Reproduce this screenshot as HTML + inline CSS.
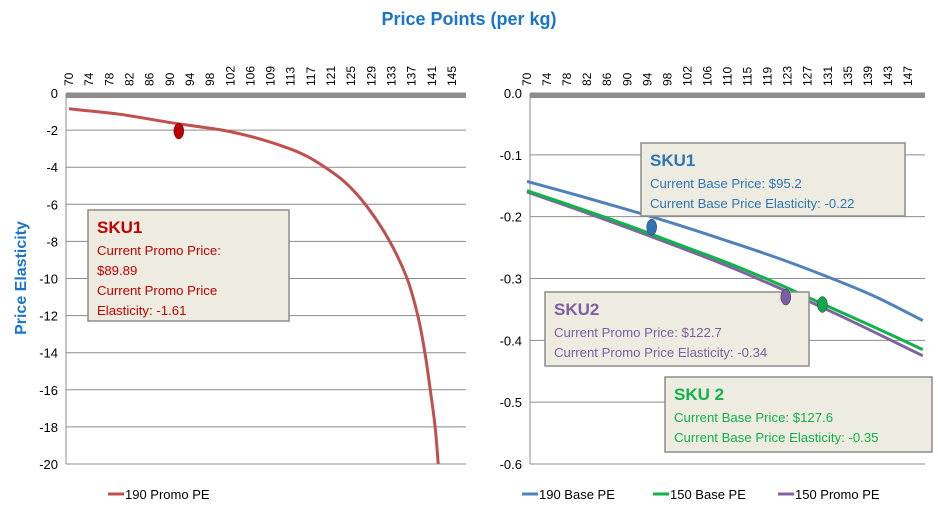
<!DOCTYPE html>
<html><head><meta charset="utf-8"><style>
body{margin:0;background:#fff;width:938px;height:517px;overflow:hidden;font-family:"Liberation Sans",sans-serif}
svg text{font-family:"Liberation Sans",sans-serif}
</style></head><body>
<svg id="c" width="938" height="517" xmlns="http://www.w3.org/2000/svg">
<text x="469" y="25" text-anchor="middle" font-size="18" font-weight="bold" fill="#1a75c8">Price Points (per kg)</text>
<text transform="translate(26,278) rotate(-90)" text-anchor="middle" font-size="16" font-weight="bold" fill="#1a75c8">Price Elasticity</text>
</svg>
<script>
const leftTicks=["70","74","78","82","86","90","94","98","102","106","109","113","117","121","125","129","133","137","141","145"];
const rightTicks=["70","74","78","82","86","90","94","98","102","106","110","115","119","123","127","131","135","139","143","147"];
const leftPrices=[70,80,90,95,100,105,110,115,119,124,128.3,132.8,136.2,138.3,139.7,140.7,141.7,142.3];
const promo190=[-0.85,-1.15,-1.6,-1.8,-2.0,-2.3,-2.7,-3.2,-3.8,-4.8,-6.1,-8.0,-10,-12,-14,-15.9,-18,-20];
const rightPrices=[70,80,90,100,110,120,130,140,150];
const base190=[-0.143,-0.165,-0.188,-0.212,-0.238,-0.265,-0.295,-0.328,-0.368];
const base150=[-0.158,-0.185,-0.213,-0.243,-0.273,-0.306,-0.342,-0.378,-0.415];
const promo150=[-0.16,-0.188,-0.217,-0.247,-0.278,-0.312,-0.348,-0.386,-0.425];
const leftYTicks=[0,-2,-4,-6,-8,-10,-12,-14,-16,-18,-20];
const rightYTicks=[0,-0.1,-0.2,-0.3,-0.4,-0.5,-0.6];
const leftMarker=[91.5,-2.05];
const rightMarkers=[[95.2,-0.217,"#2e75b6"],[122.3,-0.33,"#7e5ea3"],[129.7,-0.342,"#10a84a"]];

const svg=document.getElementById('c');
const NS="http://www.w3.org/2000/svg";
function mk(tag,attrs,parent){const e=document.createElementNS(NS,tag);for(const k in attrs)e.setAttribute(k,attrs[k]);(parent||svg).appendChild(e);return e;}
const yTop=93,yBot=464;
const lx=p=>69+(p-70)*(452-69)/75;
const ly=v=>yTop+(v/-20)*(yBot-yTop);
const rx=p=>527+(p-70)*(908-527)/77;
const ry=v=>yTop+(v/-0.6)*(yBot-yTop);

function panel(x0,x1,yTicks,yfn,fmt,ticks,tickX,name){
  yTicks.forEach(v=>{
    const y=yfn(v);
    const g=mk('line',{x1:x0,x2:x1,y1:y,y2:y,stroke:'#8c8c8c','stroke-width':1});
    
    
    const t=mk('text',{x:x0-8,y:y+5,'text-anchor':'end','font-size':13,fill:'#000'});
    t.textContent=fmt(v);
    
    
  });
  const ax=mk('line',{x1:x0,x2:x0,y1:yTop,y2:yBot,stroke:'#8c8c8c','stroke-width':1});
  
  
  const bar=mk('rect',{x:x0,y:yTop,width:x1-x0,height:5,fill:'#8c8c8c'});
  
  
  ticks.forEach((lab,i)=>{
    const x=tickX(i);
    const t=mk('text',{transform:`translate(${x+4},86) rotate(-90)`,'font-size':12,fill:'#000'});
    t.textContent=lab;
    
    
  });
}
panel(66,466,leftYTicks,ly,v=>String(v),leftTicks,i=>69+i*(452-69)/19,'left');
panel(530,925,rightYTicks,ry,v=>v.toFixed(1),rightTicks,i=>527+i*(908-527)/19,'right');

function series(px,vals,xf,yf,color,name){
  const pts=px.map((p,i)=>[xf(p),yf(vals[i])]);
  let d='M'+pts[0][0].toFixed(1)+','+pts[0][1].toFixed(1);
  for(let i=0;i<pts.length-1;i++){
    const p0=pts[Math.max(0,i-1)],p1=pts[i],p2=pts[i+1],p3=pts[Math.min(pts.length-1,i+2)];
    const c1=[p1[0]+(p2[0]-p0[0])/6,p1[1]+(p2[1]-p0[1])/6];
    const c2=[p2[0]-(p3[0]-p1[0])/6,p2[1]-(p3[1]-p1[1])/6];
    d+=` C${c1[0].toFixed(1)},${c1[1].toFixed(1)} ${c2[0].toFixed(1)},${c2[1].toFixed(1)} ${p2[0].toFixed(1)},${p2[1].toFixed(1)}`;
  }
  const e=mk('path',{d:d,fill:'none',stroke:color,'stroke-width':3,'stroke-linejoin':'round'});
  
  
}
series(leftPrices,promo190,lx,ly,'#c0504d','line-190-promo-pe');
series(rightPrices,base190,rx,ry,'#4f81bd','line-190-base-pe');
series(rightPrices,promo150,rx,ry,'#8064a2','line-150-promo-pe');
series(rightPrices,base150,rx,ry,'#0fb34a','line-150-base-pe');

function marker(x,y,c,name){
  const e=mk('ellipse',{cx:x,cy:y,rx:5,ry:8,fill:c,stroke:'#333','stroke-width':0.5});
  
  
}
marker(lx(leftMarker[0]),ly(leftMarker[1]),'#c00000','sku1-promo-marker');
marker(rx(rightMarkers[0][0]),ry(rightMarkers[0][1]),rightMarkers[0][2],'sku1-base-marker');

function box(x,y,w,h,color,lines,name){
  const g=mk('g',{});
  
  
  mk('rect',{x:x,y:y,width:w,height:h,fill:'#eeebe0',stroke:'#8c8c8c','stroke-width':1.5},g);
  lines.forEach((l,i)=>{
    const t=mk('text',{x:x+9,y:y+(i===0?23:25+i*20),'font-size':i===0?17:13.2,'font-weight':i===0?'bold':'normal',fill:color},g);
    t.textContent=l;
  });
}
box(88,210,201,111,'#c00000',['SKU1','Current Promo Price:','$89.89','Current Promo Price','Elasticity: -1.61'],'sku1-promo-callout');
box(641,143,264,73,'#2e75b6',['SKU1','Current Base Price: $95.2','Current Base Price Elasticity: -0.22'],'sku1-base-callout');
box(545,292,264,74,'#7e5ea3',['SKU2','Current Promo Price: $122.7','Current Promo Price Elasticity: -0.34'],'sku2-promo-callout');
box(665,377,267,75,'#0fb34a',['SKU 2','Current Base Price: $127.6','Current Base Price Elasticity: -0.35'],'sku2-base-callout');
marker(rx(rightMarkers[1][0]),ry(rightMarkers[1][1]),rightMarkers[1][2],'sku2-promo-marker');
marker(rx(rightMarkers[2][0]),ry(rightMarkers[2][1]),rightMarkers[2][2],'sku2-base-marker');

function legend(x,color,label,name){
  const g=mk('g',{});
  
  
  mk('line',{x1:x,x2:x+16,y1:494,y2:494,stroke:color,'stroke-width':3},g);
  const t=mk('text',{x:x+17,y:499,'font-size':13,fill:'#000'},g);
  t.textContent=label;
}
legend(108,'#c0504d','190 Promo PE','legend-190-promo-pe');
legend(522,'#4f81bd','190 Base PE','legend-190-base-pe');
legend(653,'#0fb34a','150 Base PE','legend-150-base-pe');
legend(778,'#8064a2','150 Promo PE','legend-150-promo-pe');
</script>
</body></html>
